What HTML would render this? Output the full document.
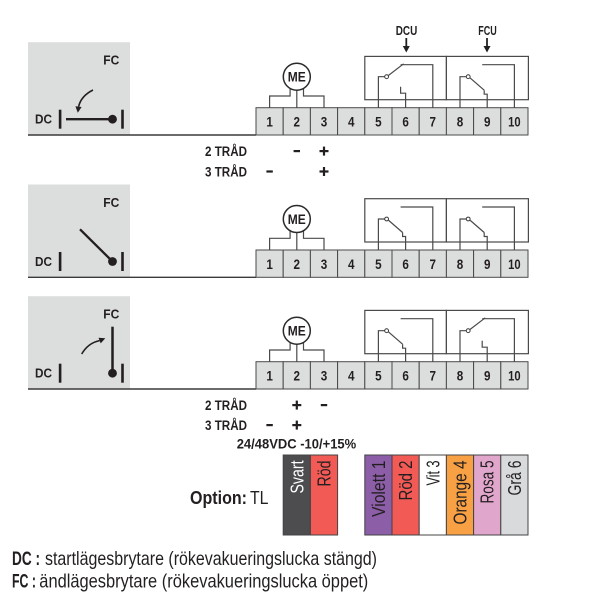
<!DOCTYPE html>
<html><head><meta charset="utf-8"><style>
html,body{margin:0;padding:0;background:#fff;}
svg{display:block;}
text{font-family:"Liberation Sans",sans-serif;fill:#231f20;}
.b{font-weight:bold;}
</style></head><body>
<svg width="600" height="600" viewBox="0 0 600 600" xmlns="http://www.w3.org/2000/svg">
<defs>
<g id="terms">
  <g fill="#dcdddd" stroke="#4a4a4a" stroke-width="1">
    <rect x="256" y="0" width="27.2" height="27.3"/><rect x="283.2" y="0" width="27.2" height="27.3"/>
    <rect x="310.4" y="0" width="27.2" height="27.3"/><rect x="337.6" y="0" width="27.2" height="27.3"/>
    <rect x="364.8" y="0" width="27.2" height="27.3"/><rect x="392" y="0" width="27.2" height="27.3"/>
    <rect x="419.2" y="0" width="27.2" height="27.3"/><rect x="446.4" y="0" width="27.2" height="27.3"/>
    <rect x="473.6" y="0" width="27.2" height="27.3"/><rect x="500.8" y="0" width="27.2" height="27.3"/>
  </g>
  <g class="b" font-size="14" text-anchor="middle" font-weight="bold">
    <text x="269.6" y="19" textLength="6.5" lengthAdjust="spacingAndGlyphs">1</text>
    <text x="296.8" y="19" textLength="6.5" lengthAdjust="spacingAndGlyphs">2</text>
    <text x="324" y="19" textLength="6.5" lengthAdjust="spacingAndGlyphs">3</text>
    <text x="351.2" y="19" textLength="6.5" lengthAdjust="spacingAndGlyphs">4</text>
    <text x="378.4" y="19" textLength="6.5" lengthAdjust="spacingAndGlyphs">5</text>
    <text x="405.6" y="19" textLength="6.5" lengthAdjust="spacingAndGlyphs">6</text>
    <text x="432.8" y="19" textLength="6.5" lengthAdjust="spacingAndGlyphs">7</text>
    <text x="460" y="19" textLength="6.5" lengthAdjust="spacingAndGlyphs">8</text>
    <text x="487.2" y="19" textLength="6.5" lengthAdjust="spacingAndGlyphs">9</text>
    <text x="514.4" y="19" textLength="12.5" lengthAdjust="spacingAndGlyphs">10</text>
  </g>
  <g fill="none" stroke="#4a4a4a" stroke-width="1.2">
    <polyline points="290.1,-19.3 290.1,-11.7 269.6,-11.7 269.6,0"/>
    <polyline points="296.8,-17.5 296.8,0"/>
    <polyline points="303.5,-19.3 303.5,-11.7 324,-11.7 324,0"/>
  </g>
  <circle cx="296.8" cy="-31" r="13.5" fill="#fff" stroke="#2a2a2a" stroke-width="1.5"/>
  <text x="296.8" y="-26" font-size="14" font-weight="bold" text-anchor="middle" textLength="18" lengthAdjust="spacingAndGlyphs">ME</text>
  <g fill="none" stroke="#4a4a4a" stroke-width="1.2">
    <rect x="364.8" y="-51.3" width="81.6" height="43.3"/>
    <rect x="446.4" y="-51.3" width="82" height="43.3"/>
    <polyline points="378.4,0 378.4,-31 384.7,-31"/>
    <polyline points="432.8,0 432.8,-43 400.6,-43"/>
    <polyline points="460,0 460,-31 466.3,-31"/>
    <polyline points="514.4,0 514.4,-43 482.2,-43"/>
  </g>
  <circle cx="386.6" cy="-31" r="1.9" fill="#fff" stroke="#3a3a3a" stroke-width="1"/>
  <circle cx="468.2" cy="-31" r="1.9" fill="#fff" stroke="#3a3a3a" stroke-width="1"/>
</g>
<g id="sw1down" fill="none" stroke="#4a4a4a" stroke-width="1.2">
  <line x1="388.2" y1="-30" x2="402.6" y2="-17.5"/>
  <polyline points="402.6,-17.5 402.6,-13.5 405.6,-13.5 405.6,0"/>
</g>
<g id="sw2down" fill="none" stroke="#4a4a4a" stroke-width="1.2">
  <line x1="469.8" y1="-30" x2="484.2" y2="-17.5"/>
  <polyline points="484.2,-17.5 484.2,-13.5 487.2,-13.5 487.2,0"/>
</g>
<g id="sw1up" fill="none" stroke="#4a4a4a" stroke-width="1.2">
  <line x1="388.2" y1="-32.1" x2="403.6" y2="-43.9"/>
  <polyline points="400.6,-21 400.6,-14.5 405.6,-14.5 405.6,0"/>
</g>
<g id="sw2up" fill="none" stroke="#4a4a4a" stroke-width="1.2">
  <line x1="469.8" y1="-32.1" x2="485.2" y2="-43.9"/>
  <polyline points="482.2,-21 482.2,-14.5 487.2,-14.5 487.2,0"/>
</g>
<g id="leftpanel">
  <rect x="28" y="-65.5" width="102" height="92.8" fill="#dcdddd"/>
  <line x1="28" y1="27.3" x2="256" y2="27.3" stroke="#3a3a3a" stroke-width="1.4"/>
  <rect x="58.8" y="2" width="2.6" height="19" fill="#231f20"/>
  <rect x="121.2" y="2" width="2.6" height="19" fill="#231f20"/>
  <circle cx="112.5" cy="11.5" r="4.4" fill="#231f20"/>
  <text x="35" y="16" font-size="13" font-weight="bold" textLength="17" lengthAdjust="spacingAndGlyphs">DC</text>
  <text x="103.3" y="-43" font-size="13" font-weight="bold" textLength="16" lengthAdjust="spacingAndGlyphs">FC</text>
</g>
</defs>

<g transform="translate(0,107.7)">
  <use href="#leftpanel"/>
  <use href="#terms"/>
  <use href="#sw1up"/>
  <use href="#sw2down"/>
  <line x1="66" y1="11.5" x2="112.5" y2="11.5" stroke="#231f20" stroke-width="2.3"/>
  <path d="M93,-17.7 Q81,-11.7 78.6,-1" fill="none" stroke="#231f20" stroke-width="1.6"/>
  <polygon points="77.8,5 75.4,-1.5 81.6,-0.7" fill="#231f20"/>
</g>
<g transform="translate(0,250)">
  <use href="#leftpanel"/>
  <use href="#terms"/>
  <use href="#sw1down"/>
  <use href="#sw2down"/>
  <line x1="80" y1="-20.7" x2="112.5" y2="11.5" stroke="#231f20" stroke-width="2.3"/>
</g>
<g transform="translate(0,361.7)">
  <use href="#leftpanel"/>
  <use href="#terms"/>
  <use href="#sw1down"/>
  <use href="#sw2up"/>
  <line x1="112.5" y1="-35" x2="112.5" y2="11.5" stroke="#231f20" stroke-width="2.5"/>
  <path d="M81.7,-7.7 Q88,-18.7 99.6,-21.1" fill="none" stroke="#231f20" stroke-width="1.6"/>
  <polygon points="105.3,-23.4 98.5,-23.9 100.7,-18.3" fill="#231f20"/>
</g>

<text x="406.5" y="35" font-size="13" font-weight="bold" text-anchor="middle" textLength="21.5" lengthAdjust="spacingAndGlyphs">DCU</text>
<text x="487.5" y="35" font-size="13" font-weight="bold" text-anchor="middle" textLength="18.5" lengthAdjust="spacingAndGlyphs">FCU</text>
<line x1="406.3" y1="38" x2="406.3" y2="47" stroke="#231f20" stroke-width="1.8"/>
<polygon points="402.8,46 409.8,46 406.3,52.5" fill="#231f20"/>
<line x1="487" y1="38" x2="487" y2="47" stroke="#231f20" stroke-width="1.8"/>
<polygon points="483.5,46 490.5,46 487,52.5" fill="#231f20"/>

<g font-size="13.5" font-weight="bold">
  <text x="205" y="156" textLength="42" lengthAdjust="spacingAndGlyphs">2 TRÅD</text>
  <text x="205" y="176.5" textLength="42" lengthAdjust="spacingAndGlyphs">3 TRÅD</text>
  <text x="205" y="410" textLength="42" lengthAdjust="spacingAndGlyphs">2 TRÅD</text>
  <text x="205" y="430" textLength="42" lengthAdjust="spacingAndGlyphs">3 TRÅD</text>
  <text x="236.7" y="448.5" textLength="119.5" lengthAdjust="spacingAndGlyphs">24/48VDC -10/+15%</text>
</g>
<g fill="#231f20">
  <rect x="293.6" y="150" width="6.4" height="2.2"/>
  <rect x="319.5" y="150" width="9" height="2.2"/><rect x="322.9" y="146.6" width="2.2" height="9"/>
  <rect x="266.4" y="170.4" width="6.4" height="2.2"/>
  <rect x="319.5" y="170.4" width="9" height="2.2"/><rect x="322.9" y="167" width="2.2" height="9"/>
  <rect x="292.3" y="404" width="9" height="2.2"/><rect x="295.7" y="400.6" width="2.2" height="9"/>
  <rect x="320.8" y="404" width="6.4" height="2.2"/>
  <rect x="266.4" y="424" width="6.4" height="2.2"/>
  <rect x="292.3" y="424" width="9" height="2.2"/><rect x="295.7" y="420.6" width="2.2" height="9"/>
</g>

<g stroke="#444" stroke-width="1">
  <rect x="283.2" y="455" width="27.2" height="80" fill="#4d4d4f"/>
  <rect x="310.4" y="455" width="27.2" height="80" fill="#f15a55"/>
  <rect x="364.8" y="455" width="27.2" height="80" fill="#8c5ea8"/>
  <rect x="392" y="455" width="27.2" height="80" fill="#f15a55"/>
  <rect x="419.2" y="455" width="27.2" height="80" fill="#ffffff"/>
  <rect x="446.4" y="455" width="27.2" height="80" fill="#f8a044"/>
  <rect x="473.6" y="455" width="27.2" height="80" fill="#e0a6cc"/>
  <rect x="500.8" y="455" width="27.2" height="80" fill="#d9dadb"/>
</g>
<g font-size="18" text-anchor="end">
  <text transform="translate(303.3,460.5) rotate(-90)" style="fill:#ffffff" textLength="33" lengthAdjust="spacingAndGlyphs">Svart</text>
  <text transform="translate(330.5,460.5) rotate(-90)" textLength="26" lengthAdjust="spacingAndGlyphs">Röd</text>
  <text transform="translate(384.9,460.5) rotate(-90)" textLength="56.5" lengthAdjust="spacingAndGlyphs">Violett 1</text>
  <text transform="translate(412.1,460.5) rotate(-90)" textLength="40" lengthAdjust="spacingAndGlyphs">Röd 2</text>
  <text transform="translate(439.3,460.5) rotate(-90)" textLength="25" lengthAdjust="spacingAndGlyphs">Vit 3</text>
  <text transform="translate(466.5,460.5) rotate(-90)" textLength="64" lengthAdjust="spacingAndGlyphs">Orange 4</text>
  <text transform="translate(493.7,460.5) rotate(-90)" textLength="43" lengthAdjust="spacingAndGlyphs">Rosa 5</text>
  <text transform="translate(520.9,460.5) rotate(-90)" textLength="35" lengthAdjust="spacingAndGlyphs">Grå 6</text>
</g>

<text x="190" y="504" font-size="18" font-weight="bold" textLength="57" lengthAdjust="spacingAndGlyphs">Option:</text>
<text x="250" y="504" font-size="18" textLength="18.5" lengthAdjust="spacingAndGlyphs">TL</text>

<text x="12" y="565" font-size="19.5" font-weight="bold" textLength="28" lengthAdjust="spacingAndGlyphs">DC :</text>
<text x="45" y="565" font-size="19.5" textLength="332" lengthAdjust="spacingAndGlyphs">startlägesbrytare (rökevakueringslucka stängd)</text>
<text x="12" y="587.3" font-size="19.5" font-weight="bold" textLength="24" lengthAdjust="spacingAndGlyphs">FC :</text>
<text x="39.3" y="587.3" font-size="19.5" textLength="329" lengthAdjust="spacingAndGlyphs">ändlägesbrytare (rökevakueringslucka öppet)</text>
</svg>
</body></html>
